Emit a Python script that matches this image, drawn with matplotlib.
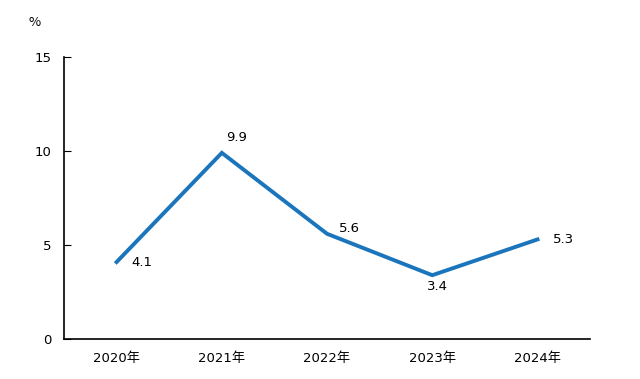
import matplotlib
matplotlib.use("Agg")
import matplotlib.pyplot as plt

plt.rcParams['font.family'] = ['DejaVu Sans', 'Noto Sans CJK SC']

years = ["2020年", "2021年", "2022年", "2023年", "2024年"]
growth = [4.1, 9.9, 5.6, 3.4, 5.3]
# label offsets in pixels relative to each point
label_dx = [25, 15, 22, 5, 26]
label_dy = [0, 15, 5, -11, 0]

fig = plt.figure(figsize=(6.4, 3.79), dpi=100)
ax = fig.add_axes([0.1, 0.105, 0.822, 0.745])

x = list(range(len(years)))
ax.plot(x, growth, color='#1a75bc', linewidth=2.8, solid_joinstyle='miter')

for i, v in enumerate(growth):
    ax.annotate(f"{v}", (x[i], v), xytext=(label_dx[i], label_dy[i]),
                textcoords='offset pixels', ha='center', va='center',
                fontsize=9.5, color='black')

ax.set_xlim(-0.5, len(years) - 0.5)
ax.set_ylim(0, 15)
ax.set_yticks([0, 5, 10, 15])
ax.set_xticks(x)
ax.set_xticklabels(years, fontsize=9.5)
ax.tick_params(axis='y', direction='in', length=5, labelsize=9.5, pad=9)
ax.tick_params(axis='x', length=0, pad=9)
ax.spines['top'].set_visible(False)
ax.spines['right'].set_visible(False)
ax.spines['left'].set_linewidth(1.2)
ax.spines['bottom'].set_linewidth(1.2)

fig.text(35 / 640, 1 - 22 / 379, "%", fontsize=9.5, ha='center', va='center',
         family=['Noto Sans CJK SC', 'DejaVu Sans'])

fig.savefig("out.png", dpi=100)
